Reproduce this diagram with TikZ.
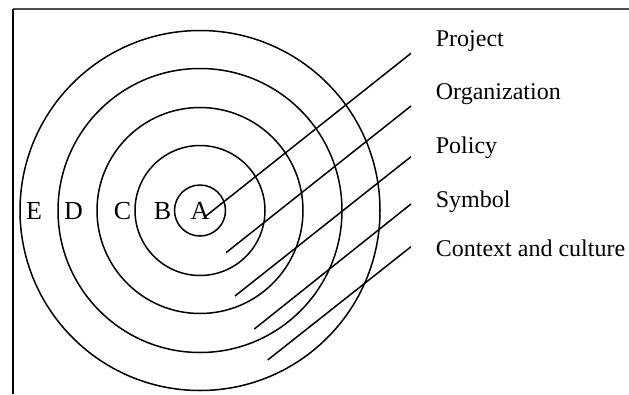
\documentclass[tikz,border=0pt]{standalone}
\usepackage{fontspec}
\setmainfont{Liberation Serif}
\begin{document}
\begin{tikzpicture}[x=1pt,y=-1pt,
  ring/.style={draw=black,line width=1.5pt},
  ray/.style={draw=black,line width=1.5pt},
  lbl/.style={inner sep=0pt,anchor=base,font=\fontsize{26}{30}\selectfont},
  txt/.style={inner sep=0pt,anchor=base west,font=\fontsize{24}{28}\selectfont}]
\useasboundingbox (0,0) rectangle (629,394);
\draw[line width=2pt,black!70] (13,9) -- (629,9);
\draw[line width=1.3pt,black] (13,394) -- (13,9);
\coordinate (O) at (200,210.5);
\foreach \r in {25.5,65,103,142,180}{
  \draw[ring] (O) circle[radius=\r];
}
\node[lbl] (E) at (34,219.5) {E};
\node[lbl] (D) at (73.5,219.5) {D};
\node[lbl] (C) at (122.5,219.5) {C};
\node[lbl] (B) at (162.5,219.5) {B};
\node[lbl] (A) at (200,219.5) {A};
\node[txt] (t1) at (435.7,46.7) {Project};
\node[txt] (t2) at (435.7,99.5) {Organization};
\node[txt] (t3) at (435.7,153.3) {Policy};
\node[txt] (t4) at (435.7,207) {Symbol};
\node[txt] (t5) at (435.7,256.5) {Context and culture};
\coordinate (s1) at (205,216.7);   \coordinate (e1) at (411,53.3);
\coordinate (s2) at (226,252.7);   \coordinate (e2) at (411,106);
\coordinate (s3) at (235,296);     \coordinate (e3) at (411,156.7);
\coordinate (s4) at (254.3,329);   \coordinate (e4) at (411,204);
\coordinate (s5) at (267.7,360);   \coordinate (e5) at (411,246.7);
\foreach \i in {1,...,5}{
  \draw[ray] (s\i) -- (e\i);
}
\end{tikzpicture}
\end{document}
